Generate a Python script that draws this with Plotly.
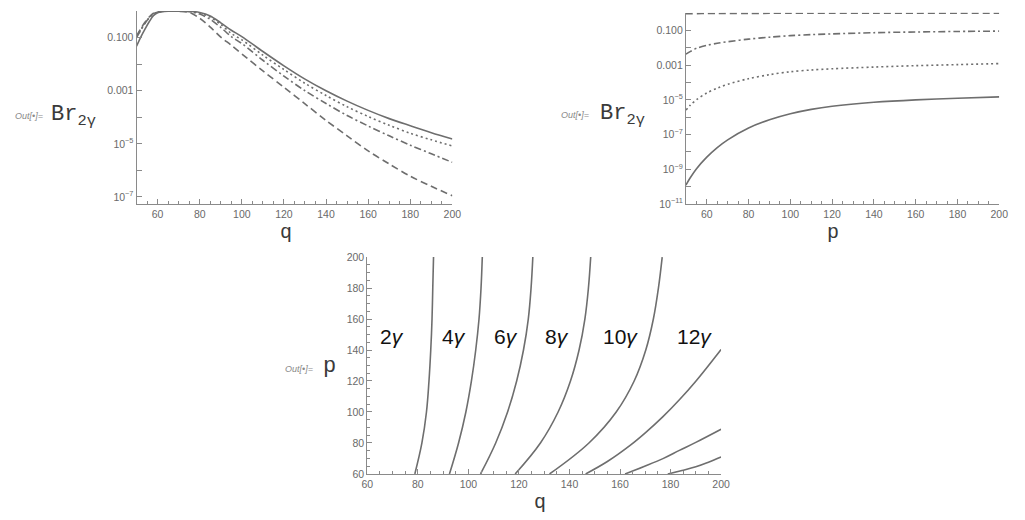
import plotly.graph_objects as go

W, H = 1025, 520

# ---------------- data ----------------
# Br(2 gamma) versus q, four curves
q_top = [50, 52, 54, 56, 58, 60, 62, 65, 70, 75, 80, 85, 90, 95, 100,
         110, 120, 130, 140, 150, 160, 170, 180, 190, 200]
br_q_solid = [0.0479, 0.105, 0.209, 0.398, 0.676, 0.871, 0.955, 0.993, 0.997, 0.985,
              0.891, 0.661, 0.363, 0.190, 0.110, 0.0302, 8.7e-3, 2.75e-3, 1.0e-3,
              4.07e-4, 1.82e-4, 8.9e-5, 4.8e-5, 2.63e-5, 1.51e-5]
br_q_dotted = [0.110, 0.200, 0.355, 0.562, 0.794, 0.912, 0.977, 0.995, 0.997, 0.980,
               0.851, 0.590, 0.316, 0.145, 0.0832, 0.0219, 6.3e-3, 1.9e-3, 6.6e-4,
               2.5e-4, 1.07e-4, 5.0e-5, 2.5e-5, 1.41e-5, 8.3e-6]
br_q_dashdot = [0.102, 0.191, 0.347, 0.562, 0.794, 0.912, 0.977, 0.995, 0.996, 0.962,
                0.776, 0.490, 0.245, 0.110, 0.0603, 0.0141, 3.55e-3, 1.0e-3, 3.3e-4,
                1.17e-4, 4.7e-5, 2.0e-5, 8.9e-6, 4.2e-6, 2.0e-6]
br_q_dashed = [0.117, 0.219, 0.380, 0.603, 0.832, 0.933, 0.977, 0.995, 0.985, 0.900,
               0.540, 0.250, 0.105, 0.0520, 0.0245, 5.6e-3, 1.35e-3, 3.2e-4, 7.6e-5,
               2.0e-5, 5.4e-6, 1.74e-6, 6.0e-7, 2.5e-7, 1.1e-7]

# Br(2 gamma) versus p, four curves
p_top = [50, 52, 55, 60, 65, 70, 80, 90, 100, 110, 120, 140, 160, 180, 200]
br_p_solid = [1.23e-10, 3.16e-10, 1.05e-9, 5.0e-9, 1.78e-8, 5.0e-8, 2.4e-7, 7.1e-7,
              1.58e-6, 2.82e-6, 4.27e-6, 7.24e-6, 1.0e-5, 1.23e-5, 1.48e-5]
br_p_dotted = [2.57e-6, 4.8e-6, 1.0e-5, 2.5e-5, 4.7e-5, 7.9e-5, 1.66e-4, 2.82e-4,
               4.17e-4, 5.25e-4, 6.17e-4, 7.76e-4, 9.33e-4, 1.07e-3, 1.23e-3]
br_p_dashdot = [4.27e-3, 6.0e-3, 9.3e-3, 0.0138, 0.0182, 0.0224, 0.0316, 0.0407,
                0.0501, 0.0575, 0.0631, 0.0741, 0.0813, 0.0871, 0.0912]
br_p_dashed = [0.910, 0.918, 0.928, 0.940, 0.950, 0.956, 0.962, 0.967, 0.971, 0.974,
               0.977, 0.981, 0.985, 0.988, 0.990]

# boundaries between photon multiplicity regions in the (q, p) plane
p_grid = [60, 80, 100, 120, 140, 160, 180, 200]
q_line1 = [78.8, 81.6, 83.4, 84.4, 85.1, 85.6, 85.9, 86.2]
q_line2 = [92.5, 96.1, 99.0, 101.2, 102.9, 104.2, 105.0, 105.5]
q_line3 = [104.8, 110.8, 115.5, 119.1, 121.8, 123.7, 124.8, 125.5]
q_line4 = [118.5, 128.5, 135.5, 140.4, 143.8, 146.1, 147.5, 148.4]
q_line5 = [132.1, 147.7, 158.5, 165.6, 170.2, 173.2, 175.2, 176.7]
p_line6 = [60, 68.0, 78.4, 86.5, 97.0, 107.9, 119.9, 140.4]
q_line6 = [146.4, 155.0, 164.0, 170.0, 177.0, 183.5, 190.0, 200.0]
p_line7 = [60, 64.8, 69.9, 75.2, 80.4, 88.9]
q_line7 = [162.0, 169.5, 177.0, 183.5, 190.0, 200.0]
p_line8 = [60, 62.2, 64.6, 67.6, 71.0]
q_line8 = [178.9, 184.5, 190.0, 195.0, 200.0]

region_labels = ["2<i>γ</i>", "4<i>γ</i>", "6<i>γ</i>", "8<i>γ</i>", "10<i>γ</i>", "12<i>γ</i>"]
region_label_q = [69.7, 94.4, 114.7, 135.0, 160.3, 189.5]
region_label_p = 148.5

x_ticks = [60, 80, 100, 120, 140, 160, 180, 200]
y_ticks_p = [60, 80, 100, 120, 140, 160, 180, 200]

# ---------------- styling ----------------
LINE = "#6e6e6e"
AXIS = "#8a8a8a"
TICKFONT = dict(family="Liberation Sans, Arial", size=10.5, color="#6a6a6a")
DASHES = {"solid": "solid", "dotted": "2px,3px", "dashdot": "7px,3px,2px,3px",
          "dashed": "7px,4px"}


def sup_label(e):
    if e == -1:
        return "0.100"
    if e == -3:
        return "0.001"
    return "10<sup>−%d</sup>" % (-e)


fig = go.Figure()


def add_curve(x, y, dash, xa, ya, smoothing=0.9):
    fig.add_trace(go.Scatter(
        x=x, y=y, mode="lines", xaxis=xa, yaxis=ya, showlegend=False,
        line=dict(color=LINE, width=1.6, dash=DASHES[dash], shape="spline",
                  smoothing=smoothing),
        hoverinfo="skip"))


for ys, d in [(br_q_dashed, "dashed"), (br_q_dashdot, "dashdot"),
              (br_q_dotted, "dotted"), (br_q_solid, "solid")]:
    add_curve(q_top, ys, d, "x", "y")

for ys, d in [(br_p_dashed, "dashed"), (br_p_dashdot, "dashdot"),
              (br_p_dotted, "dotted"), (br_p_solid, "solid")]:
    add_curve(p_top, ys, d, "x2", "y2")

for qs, ps in [(q_line1, p_grid), (q_line2, p_grid), (q_line3, p_grid),
               (q_line4, p_grid), (q_line5, p_grid), (q_line6, p_line6),
               (q_line7, p_line7), (q_line8, p_line8)]:
    add_curve(qs, ps, "solid", "x3", "y3", smoothing=1.1)

common_axis = dict(showgrid=False, zeroline=False, showline=True, linecolor=AXIS,
                   linewidth=1, ticks="inside", tickcolor=AXIS, ticklen=5,
                   tickfont=TICKFONT, mirror=False)

x_axis_common = dict(common_axis, tickvals=x_ticks, ticktext=[str(v) for v in x_ticks],
                     minor=dict(dtick=5, tick0=50, ticks="inside", ticklen=3, tickcolor=AXIS))

decades_a = list(range(-7, 1))
decades_b = list(range(-11, 1))

fig.update_layout(
    width=W, height=H, margin=dict(l=0, r=0, t=0, b=0),
    paper_bgcolor="white", plot_bgcolor="white",
    xaxis=dict(x_axis_common, domain=[132.5 / W, 453 / W], range=[50, 200], anchor="y"),
    yaxis=dict(common_axis, domain=[1 - 203 / H, 1 - 5 / H], type="log",
               range=[-7.28, 0.01], anchor="x",
               tickvals=[10.0 ** e for e in decades_a],
               ticktext=[sup_label(e) if e in (-1, -3, -5, -7) else "" for e in decades_a]),
    xaxis2=dict(x_axis_common, domain=[690 / W, 1008 / W], range=[50, 200], anchor="y2"),
    yaxis2=dict(common_axis, domain=[1 - 202.7 / H, 1 - 7 / H], type="log",
                range=[-11, 0.013], anchor="x2",
                tickvals=[10.0 ** e for e in decades_b],
                ticktext=[sup_label(e) if e % 2 != 0 else "" for e in decades_b]),
    xaxis3=dict(x_axis_common, domain=[366.7 / W, 725.7 / W], range=[60, 200], anchor="y3"),
    yaxis3=dict(common_axis, domain=[1 - 479 / H, 1 - 257 / H], range=[60, 200], anchor="x3",
                tickvals=y_ticks_p, ticktext=[str(v) for v in y_ticks_p],
                minor=dict(dtick=5, tick0=60, ticks="inside", ticklen=3, tickcolor=AXIS)),
)

ann = []
OUT_FONT = dict(family="Liberation Sans, Arial", size=9, color="#8a8a8a")
MONO = dict(family="Liberation Mono, Courier New, monospace", size=22, color="#3a3a3a")
MONO_AX = dict(family="Liberation Mono, Courier New, monospace", size=20, color="#3a3a3a")


def paper(x, y, text, font, xanchor="center"):
    ann.append(dict(x=x / W, y=1 - y / H, xref="paper", yref="paper", text=text,
                    showarrow=False, font=font, xanchor=xanchor, yanchor="middle"))


# output labels on the left of each panel
paper(7, 113, "<i>Out[•]=</i>", OUT_FONT, "left")
paper(44, 113, "Br<sub>2γ</sub>", MONO, "left")
paper(561, 112, "<i>Out[•]=</i>", OUT_FONT, "left")
paper(601, 112, "Br<sub>2γ</sub>", MONO, "left")
paper(281, 372, "<i>Out[•]=</i>", OUT_FONT, "left")
paper(320, 369, "p", MONO, "left")

# axis titles
paper(284, 232, "q", MONO_AX)
paper(839, 232, "p", MONO_AX)
paper(542, 508, "q", MONO_AX)

# region labels inside the (q, p) panel
for txt, qv in zip(region_labels, region_label_q):
    ann.append(dict(x=qv, y=region_label_p, xref="x3", yref="y3", text=txt,
                    showarrow=False, font=dict(family="Liberation Sans, Arial", size=21,
                                               color="#111111")))

fig.update_layout(annotations=ann)

fig.write_html("out.html")
